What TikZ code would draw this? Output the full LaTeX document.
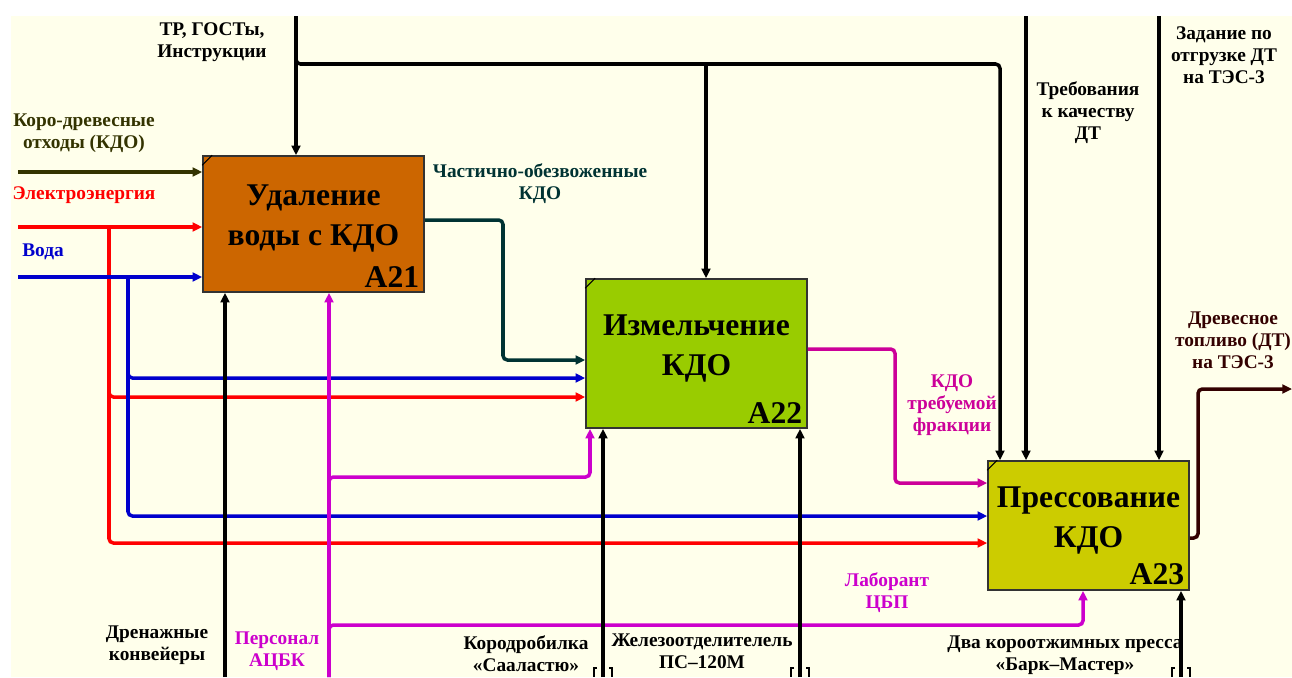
\documentclass[tikz,border=0pt]{standalone}
\usepackage{fontspec}
\setmainfont{Liberation Serif}
\usetikzlibrary{arrows.meta}
\definecolor{paper}{RGB}{255,255,235}
\definecolor{boxA}{RGB}{204,102,0}
\definecolor{boxB}{RGB}{153,204,0}
\definecolor{boxC}{RGB}{204,204,0}
\definecolor{bark}{RGB}{51,51,0}
\definecolor{power}{RGB}{255,0,0}
\definecolor{water}{RGB}{0,0,204}
\definecolor{semi}{RGB}{0,51,51}
\definecolor{frac}{RGB}{204,0,153}
\definecolor{staff}{RGB}{204,0,204}
\definecolor{fuel}{RGB}{51,0,0}
\begin{document}
\begin{tikzpicture}[x=0.02cm,y=-0.02cm,
  fn/.style={draw=black!80,line width=0.9pt,inner sep=0pt},
  ttl/.style={align=center,font=\fontsize{18}{23}\selectfont\bfseries},
  fid/.style={anchor=south east,inner sep=3pt,font=\fontsize{18}{20}\selectfont\bfseries},
  lbl/.style={align=center,font=\fontsize{11}{12.5}\selectfont\bfseries},
  arc/.style={line width=2pt,rounded corners=2.5pt,-{Triangle[length=5.5pt,width=5pt]}},
  tunnel/.style={line width=0.8pt}]
\fill[white] (0,0) rectangle (1292,677);
\useasboundingbox (0,0) rectangle (1292,677);
\fill[paper] (11,16) rectangle (1292,677);

\node[fn,fill=boxA,minimum width=221*0.02cm,minimum height=136*0.02cm] (a21) at (313.5,224) {};
\node[fn,fill=boxB,minimum width=221*0.02cm,minimum height=149*0.02cm] (a22) at (696.5,353.5) {};
\node[fn,fill=boxC,minimum width=201*0.02cm,minimum height=129*0.02cm] (a23) at (1088.5,525.5) {};
\foreach \b in {a21,a22,a23}
  \draw[line width=0.6pt] (\b.north west) ++(0,10) -- ++(10,-10);
\node[ttl] (a21t) at ([yshift=3pt]a21.center) {Удаление\\воды с КДО};
\node[ttl] (a22t) at ([yshift=3pt]a22.center) {Измельчение\\КДО};
\node[ttl] (a23t) at ([yshift=3pt]a23.center) {Прессование\\КДО};
\node[fid] (a21n) at (a21.south east) {A21};
\node[fid] (a22n) at (a22.south east) {A22};
\node[fid] (a23n) at (a23.south east) {A23};

\coordinate (tr) at (296,16);
\coordinate (trj) at (296,64);
\coordinate (trk) at (706,64);
\coordinate (trc) at (1000,64);
\coordinate (req) at (1026,16);
\coordinate (task) at (1159,16);
\coordinate (kdo) at (18,172);
\coordinate (el) at (18,227);
\coordinate (elj) at (109,227);
\coordinate (el2) at (109,397);
\coordinate (el3) at (109,543);
\coordinate (wat) at (18,277);
\coordinate (watj) at (128,277);
\coordinate (wat2) at (128,378);
\coordinate (wat3) at (128,516);
\coordinate (d1) at (503,220);
\coordinate (d2) at (503,360);
\coordinate (m1) at (895,349);
\coordinate (m2) at (895,483);
\coordinate (f1) at (1198,538);
\coordinate (f2) at (1198,389);
\coordinate (fuelout) at (1292,389);
\coordinate (drain) at (225,677);
\coordinate (stf) at (329,677);
\coordinate (s1) at (329,477);
\coordinate (s1b) at (590,477);
\coordinate (s2) at (329,625);
\coordinate (s2b) at (1083,625);
\coordinate (crush) at (603,677);
\coordinate (sep) at (800,677);
\coordinate (press) at (1181,677);

\draw[arc,bark] (kdo) -- (kdo -| a21.west);
\draw[arc,power] (el) -- (el -| a21.west);
\draw[arc,power] (elj) -- (el2) -- (el2 -| a22.west);
\draw[arc,power] (elj) -- (el3) -- (el3 -| a23.west);
\draw[arc,water] (wat) -- (wat -| a21.west);
\draw[arc,water] (watj) -- (wat2) -- (wat2 -| a22.west);
\draw[arc,water] (watj) -- (wat3) -- (wat3 -| a23.west);
\draw[arc,semi] (d1 -| a21.east) -- (d1) -- (d2) -- (d2 -| a22.west);
\draw[arc,frac] (m1 -| a22.east) -- (m1) -- (m2) -- (m2 -| a23.west);
\draw[arc,fuel] (f1 -| a23.east) -- (f1) -- (f2) -- (fuelout);

\draw[arc] (tr) -- (tr |- a21.north);
\draw[arc] (tr) -- (trj) -- (trc) -- (trc |- a23.north);
\draw[arc] (trk) -- (trk |- a22.north);
\draw[arc] (req) -- (req |- a23.north);
\draw[arc] (task) -- (task |- a23.north);

\draw[arc,staff] (stf) -- (stf |- a21.south);
\draw[arc,staff] (stf) -- (s1) -- (s1b) -- (s1b |- a22.south);
\draw[arc,staff] (stf) -- (s2) -- (s2b) -- (s2b |- a23.south);
\foreach \m/\b in {drain/a21,crush/a22,sep/a22,press/a23}
  \draw[arc] (\m) -- (\m |- \b.south);
\foreach \m in {crush,sep,press}{
  \draw[tunnel] (\m) ++(-6,-9) -- ++(-3,0) -- ++(0,9);
  \draw[tunnel] (\m) ++(6,-9) -- ++(3,0) -- ++(0,9);
}

\node[lbl] (ltr) at (212,42) {ТР, ГОСТы,\\Инструкции};
\node[lbl,text=bark] (lkdo) at (84,133) {Коро-древесные\\отходы (КДО)};
\node[lbl,text=power] (lel) at (84,195) {Электроэнергия};
\node[lbl,text=water] (lwat) at (43,252) {Вода};
\node[lbl,text=semi] (lsemi) at (540,184) {Частично-обезвоженные\\КДО};
\node[lbl] (lreq) at (1088,113) {Требования\\к качеству\\ДТ};
\node[lbl] (ltask) at (1224,55) {Задание по\\отгрузке ДТ\\на ТЭС-3};
\node[lbl,text=fuel] (lfuel) at (1233,340) {Древесное\\топливо (ДТ)\\на ТЭС-3};
\node[lbl,text=frac] (lfrac) at (952,405) {КДО\\требуемой\\фракции};
\node[lbl,text=staff] (llab) at (887,593) {Лаборант\\ЦБП};
\node[lbl] (ldrain) at (157,645) {Дренажные\\конвейеры};
\node[lbl,text=staff] (lstaff) at (277,651) {Персонал\\АЦБК};
\node[lbl] (lcrush) at (526,654) {Кородробилка\\«Сааластю»};
\node[lbl] (lsep) at (702,651) {Железоотделителель\\ПС–120М};
\node[lbl] (lpress) at (1065,655) {Два короотжимных пресса\\«Барк–Мастер»};
\end{tikzpicture}
\end{document}
